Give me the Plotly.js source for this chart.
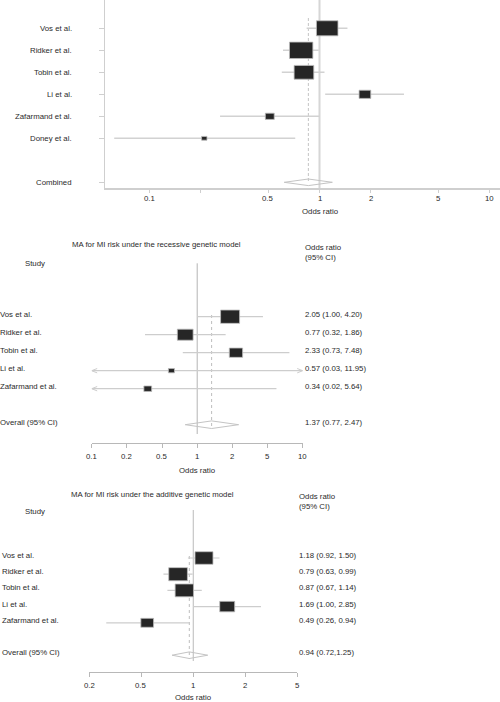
<!DOCTYPE html>
<html>
<head>
<meta charset="utf-8">
<script src="https://cdn.plot.ly/plotly-3.0.1.min.js"></script>
<style>html,body{margin:0;padding:0;background:#fff}#chart{width:500px;height:702px}</style>
</head>
<body>
<div id="chart"></div>
<script>
// ---------------- DATA ----------------
// Panel 1 (untitled forest plot)
const p1Studies = ['Vos et al.', 'Ridker et al.', 'Tobin et al.', 'Li et al.', 'Zafarmand et al.', 'Doney et al.'];
const p1OR      = [1.11, 0.78, 0.81, 1.85, 0.51, 0.21];
const p1Lower   = [0.84, 0.61, 0.60, 1.08, 0.26, 0.062];
const p1Upper   = [1.46, 0.99, 1.07, 3.14, 1.00, 0.72];
const p1Weight  = [0.92, 1.00, 0.84, 0.50, 0.38, 0.23];
const p1Pooled  = [0.86, 0.62, 1.19];           // estimate, lower, upper
const p1PooledLabel = 'Combined';
const p1TickVals = [0.1, 0.2, 0.5, 1, 2, 5, 10];
const p1TickText = ['0.1', '', '0.5', '1', '2', '5', '10'];

// Panel 2 (recessive model)
const p2Title   = 'MA for MI risk under the recessive genetic model';
const p2Studies = ['Vos et al.', 'Ridker et al.', 'Tobin et al.', 'Li et al.', 'Zafarmand et al.'];
const p2OR      = [2.05, 0.77, 2.33, 0.57, 0.34];
const p2Lower   = [1.00, 0.32, 0.73, 0.03, 0.02];
const p2Upper   = [4.20, 1.86, 7.48, 11.95, 5.64];
const p2Weight  = [1.00, 0.83, 0.70, 0.32, 0.41];
const p2Pooled  = [1.37, 0.77, 2.47];
const p2PooledLabel = 'Overall (95% CI)';
const p2CIText  = ['2.05 (1.00, 4.20)', '0.77 (0.32, 1.86)', '2.33 (0.73, 7.48)', '0.57 (0.03, 11.95)', '0.34 (0.02, 5.64)'];
const p2PooledText = '1.37 (0.77, 2.47)';
const p2TickText = ['0.1', '0.2', '0.5', '1', '2', '5', '10'];

// Panel 3 (additive model)
const p3Title   = 'MA for MI risk under the additive genetic model';
const p3Studies = ['Vos et al.', 'Ridker et al.', 'Tobin et al.', 'Li et al.', 'Zafarmand et al.'];
const p3OR      = [1.18, 0.79, 0.87, 1.69, 0.49];
const p3Lower   = [0.92, 0.63, 0.67, 1.00, 0.26];
const p3Upper   = [1.50, 0.99, 1.14, 2.85, 0.94];
const p3Weight  = [0.96, 1.00, 0.98, 0.80, 0.68];
const p3Pooled  = [0.94, 0.72, 1.25];
const p3PooledLabel = 'Overall (95% CI)';
const p3CIText  = ['1.18 (0.92, 1.50)', '0.79 (0.63, 0.99)', '0.87 (0.67, 1.14)', '1.69 (1.00, 2.85)', '0.49 (0.26, 0.94)'];
const p3PooledText = '0.94 (0.72,1.25)';
const p3TickText = ['0.2', '0.5', '1', '2', '5'];

// ---------------- LAYOUT / STYLE ----------------
const W = 500, H = 702;
const FONT = 'Liberation Sans, Arial, Helvetica, sans-serif';
const FS = 7.8;
const TXT = '#2a2a2a';
const px = x => x / W;
const py = y => 1 - y / H;

const evenTicks = (r, labels) => labels.map((_, i) => Math.pow(10, r[0] + i * (r[1] - r[0]) / (labels.length - 1)));

const panels = [
  { studies: p1Studies, or: p1OR, lo: p1Lower, hi: p1Upper, wt: p1Weight, pooled: p1Pooled,
    pooledLabel: p1PooledLabel, pooledRow: 7,
    xPx: [105, 500], xRange: [-1.2618, 1.0618], yPx: [0, 188.3], row0: 28.3, rowH: 22, maxBox: 23.4,
    tickvals: p1TickVals, ticktext: p1TickText, ticklen: 3.5, tickLabelY: 198.3,
    showYAxis: true, axisColor: '#cfcfcf', axisWidth: 1.5,
    labelX: 72, labelAnchor: 'right', textShift: 0,
    ciWidth: 1.5, ciColor: '#d2d2d2',
    refLine: { y: [0, 188.3], color: '#d6d6d6', width: 2, dash: 'solid' },
    poolLine: { y: [18, 183], color: '#c4c4c4', width: 1, dash: '3px,2px' },
    diamondHalf: 3.3, xTitle: { x: 320, y: 211.7 } },
  { studies: p2Studies, or: p2OR, lo: p2Lower, hi: p2Upper, wt: p2Weight, pooled: p2Pooled,
    pooledLabel: p2PooledLabel, pooledRow: 6,
    xPx: [91.7, 302.7], xRange: [-1, 1], yPx: [240, 442.5], row0: 316.7, rowH: 18, maxBox: 19,
    tickvals: evenTicks([-1, 1], p2TickText), ticktext: p2TickText, ticklen: 4, tickLabelY: 456.3,
    showYAxis: false, axisColor: '#b8b8b8', axisWidth: 1,
    labelX: 0, labelAnchor: 'left', textShift: 2.7,
    ciWidth: 1.2, ciColor: '#cdcdcd',
    refLine: { y: [263.3, 434], color: '#b4b4b4', width: 1, dash: 'solid' },
    poolLine: { y: [315, 428], color: '#bdbdbd', width: 1, dash: 'dot' },
    diamondHalf: 3.8, xTitle: { x: 197.5, y: 470.7 },
    title: p2Title, titlePos: { x: 71.7, y: 245 }, studyPos: { x: 25, y: 263 },
    headPos: { x: 305, y: 252 }, ciText: p2CIText, pooledText: p2PooledText, ciX: 305 },
  { studies: p3Studies, or: p3OR, lo: p3Lower, hi: p3Upper, wt: p3Weight, pooled: p3Pooled,
    pooledLabel: p3PooledLabel, pooledRow: 6,
    xPx: [89.3, 297.3], xRange: [Math.log10(0.2), Math.log10(5)], yPx: [490, 672.3], row0: 558, rowH: 16.2, maxBox: 18.7,
    tickvals: evenTicks([Math.log10(0.2), Math.log10(5)], p3TickText), ticktext: p3TickText, ticklen: 4, tickLabelY: 685,
    showYAxis: false, axisColor: '#b8b8b8', axisWidth: 1,
    labelX: 2.3, labelAnchor: 'left', textShift: 2.5,
    ciWidth: 1.2, ciColor: '#cdcdcd',
    refLine: { y: [510, 661], color: '#c6c6c6', width: 1.2, dash: 'solid' },
    poolLine: { y: [556, 659], color: '#bdbdbd', width: 1, dash: 'dot' },
    diamondHalf: 3.3, xTitle: { x: 193, y: 697.2 },
    title: p3Title, titlePos: { x: 70.7, y: 494 }, studyPos: { x: 25, y: 511 },
    headPos: { x: 299, y: 501.5 }, ciText: p3CIText, pooledText: p3PooledText, ciX: 299 }
];

const traces = [];
const shapes = [];
const annotations = [];
const layout = {
  width: W, height: H,
  margin: { l: 0, r: 0, t: 0, b: 0, pad: 0 },
  paper_bgcolor: '#ffffff', plot_bgcolor: 'rgba(0,0,0,0)',
  showlegend: false,
  font: { family: FONT, size: FS, color: TXT }
};

function ann(o) {
  return Object.assign({ showarrow: false, borderpad: 0, borderwidth: 0,
    font: { family: FONT, size: FS, color: TXT } }, o);
}

panels.forEach((p, k) => {
  const sfx = k === 0 ? '' : String(k + 1);
  const xa = 'x' + sfx, ya = 'y' + sfx;
  const rowOf = v => (v - p.row0) / p.rowH;
  const pxDec = (p.xPx[1] - p.xPx[0]) / (p.xRange[1] - p.xRange[0]);
  const xMin = Math.pow(10, p.xRange[0]), xMax = Math.pow(10, p.xRange[1]);
  const rows = p.studies.map((_, i) => i);

  layout['xaxis' + sfx] = {
    type: 'log', domain: [px(p.xPx[0]), px(p.xPx[1])], range: p.xRange, anchor: ya,
    showgrid: false, zeroline: false, showline: true, linecolor: p.axisColor, linewidth: p.axisWidth,
    ticks: 'outside', ticklen: p.ticklen, tickwidth: 1, tickcolor: p.axisColor,
    tickvals: p.tickvals, showticklabels: false, fixedrange: true
  };
  layout['yaxis' + sfx] = {
    domain: [py(p.yPx[1]), py(p.yPx[0])],
    range: [rowOf(p.yPx[1]), rowOf(p.yPx[0])], anchor: xa,
    showgrid: false, zeroline: false, fixedrange: true,
    showline: p.showYAxis, linecolor: p.axisColor, linewidth: p.axisWidth,
    ticks: p.showYAxis ? 'outside' : '', ticklen: 5, tickcolor: p.axisColor, tickwidth: 1,
    tickvals: p.showYAxis ? rows.concat([p.pooledRow]) : [], showticklabels: false
  };

  // tick labels (placed on the log axis)
  p.tickvals.forEach((v, i) => {
    if (!p.ticktext[i]) return;
    annotations.push(ann({ xref: xa, yref: 'paper', x: Math.log10(v), y: py(p.tickLabelY),
      xanchor: 'center', yanchor: 'middle', text: p.ticktext[i] }));
  });

  // reference line at OR = 1
  traces.push({ type: 'scatter', mode: 'lines', xaxis: xa, yaxis: ya, hoverinfo: 'skip',
    x: [1, 1], y: p.refLine.y.map(rowOf),
    line: { color: p.refLine.color, width: p.refLine.width, dash: p.refLine.dash } });
  // pooled estimate line
  traces.push({ type: 'scatter', mode: 'lines', xaxis: xa, yaxis: ya, hoverinfo: 'skip',
    x: [p.pooled[0], p.pooled[0]], y: p.poolLine.y.map(rowOf),
    line: { color: p.poolLine.color, width: p.poolLine.width, dash: p.poolLine.dash } });

  // CI lines (clipped to axis range) + arrows for truncated CIs
  const cx = [], cy = [], ax = [], ay = [];
  const armX = Math.pow(10, 5.5 / pxDec), armY = 2.2 / p.rowH;
  rows.forEach(i => {
    const a = Math.max(p.lo[i], xMin), b = Math.min(p.hi[i], xMax);
    cx.push(a, b, null); cy.push(i, i, null);
    if (p.lo[i] < xMin) { ax.push(xMin * armX, xMin, xMin * armX, null); ay.push(i - armY, i, i + armY, null); }
    if (p.hi[i] > xMax) { ax.push(xMax / armX, xMax, xMax / armX, null); ay.push(i - armY, i, i + armY, null); }
  });
  traces.push({ type: 'scatter', mode: 'lines', xaxis: xa, yaxis: ya, hoverinfo: 'skip',
    x: cx, y: cy, line: { color: p.ciColor, width: p.ciWidth } });
  if (ax.length) traces.push({ type: 'scatter', mode: 'lines', xaxis: xa, yaxis: ya, hoverinfo: 'skip',
    x: ax, y: ay, line: { color: p.ciColor, width: 1 } });

  // pooled diamond
  const r = p.pooledRow, dh = p.diamondHalf / p.rowH;
  traces.push({ type: 'scatter', mode: 'lines', xaxis: xa, yaxis: ya, hoverinfo: 'skip',
    x: [p.pooled[1], p.pooled[0], p.pooled[2], p.pooled[0], p.pooled[1]],
    y: [r, r - dh, r, r + dh, r],
    line: { color: '#c4c4c4', width: 1 } });

  // study boxes (size by weight): width in log units, height in pixels
  rows.forEach(i => {
    const w = p.maxBox * p.wt[i], h = w * 0.7;
    const f = Math.pow(10, (w / 2) / pxDec);
    shapes.push({ type: 'rect', xref: xa, yref: ya, layer: 'above',
      x0: p.or[i] / f, x1: p.or[i] * f,
      ysizemode: 'pixel', yanchor: i, y0: -h / 2, y1: h / 2,
      fillcolor: '#262626', line: { color: '#bdbdbd', width: 0.8 } });
  });

  // study labels
  p.studies.concat([p.pooledLabel]).forEach((s, i) => {
    const row = i < p.studies.length ? i : p.pooledRow;
    annotations.push(ann({ xref: 'paper', yref: ya, x: px(p.labelX), y: row, yshift: p.textShift,
      xanchor: p.labelAnchor, yanchor: 'middle', text: s }));
  });
  // x-axis title
  annotations.push(ann({ xref: 'paper', yref: 'paper', x: px(p.xTitle.x), y: py(p.xTitle.y),
    xanchor: 'center', yanchor: 'middle', text: 'Odds ratio' }));

  if (p.title) {
    annotations.push(ann({ xref: 'paper', yref: 'paper', x: px(p.titlePos.x), y: py(p.titlePos.y),
      xanchor: 'left', yanchor: 'middle', text: p.title }));
    annotations.push(ann({ xref: 'paper', yref: 'paper', x: px(p.studyPos.x), y: py(p.studyPos.y),
      xanchor: 'left', yanchor: 'middle', text: 'Study' }));
    annotations.push(ann({ xref: 'paper', yref: 'paper', x: px(p.headPos.x), y: py(p.headPos.y),
      xanchor: 'left', yanchor: 'middle', align: 'left', text: 'Odds ratio<br>(95% CI)' }));
    p.ciText.concat([p.pooledText]).forEach((s, i) => {
      const row = i < p.ciText.length ? i : p.pooledRow;
      annotations.push(ann({ xref: 'paper', yref: ya, x: px(p.ciX), y: row, yshift: p.textShift,
        xanchor: 'left', yanchor: 'middle', text: s }));
    });
  }
});

layout.shapes = shapes;
layout.annotations = annotations;

Plotly.newPlot('chart', traces, layout, { staticPlot: true, displayModeBar: false });
</script>
</body>
</html>
